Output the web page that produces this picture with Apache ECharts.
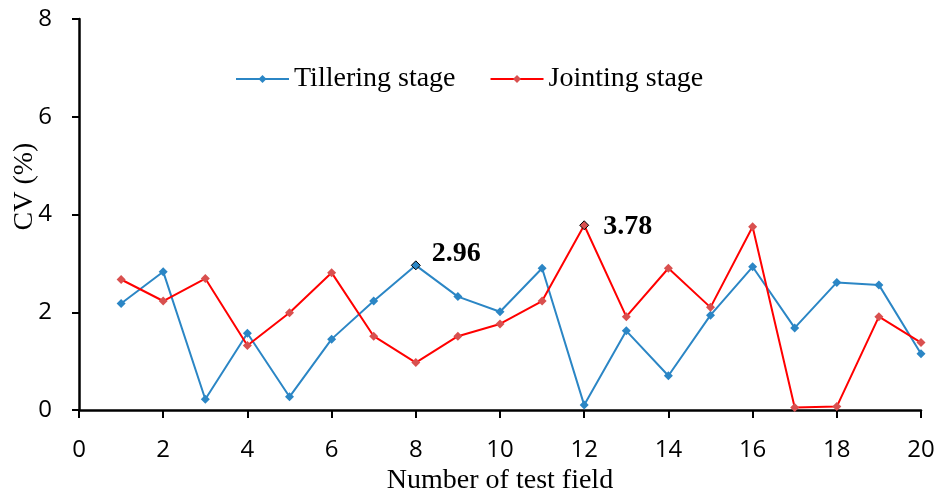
<!DOCTYPE html>
<html><head><meta charset="utf-8">
<script src="https://cdn.jsdelivr.net/npm/echarts@6/dist/echarts.min.js"></script>
<style>html,body{margin:0;padding:0;background:#fff}#c{width:940px;height:497px}</style>
</head><body><div id="c"></div>
<script>
const fields = [1,2,3,4,5,6,7,8,9,10,11,12,13,14,15,16,17,18,19,20];
const tillering = [2.18,2.83,0.22,1.57,0.27,1.45,2.23,2.96,2.32,2.01,2.90,0.10,1.62,0.70,1.94,2.93,1.68,2.61,2.56,1.15];
const jointing = [2.67,2.23,2.69,1.32,1.99,2.81,1.51,0.97,1.51,1.76,2.23,3.78,1.91,2.90,2.10,3.75,0.05,0.07,1.91,1.38];
const xTicks = [0,2,4,6,8,10,12,14,16,18,20];
const yTicks = [0,2,4,6,8];
const labelled = {tillering: 8, jointing: 12};

const tickFont = '"Open Sans","DejaVu Sans Condensed",sans-serif';
const serif = '"Liberation Serif","Times New Roman",serif';

function build(vals, idx, off) {
  return vals.map((v, i) => {
    const item = {value: [fields[i], v]};
    if (fields[i] === idx) {
      item.label = {show: true, formatter: v.toFixed(2), position: 'right', offset: off,
        fontFamily: serif, fontWeight: 'bold', fontSize: 28, color: '#000'};
      item.itemStyle = {borderColor: '#000', borderWidth: 1};
    }
    return item;
  });
}

const chart = echarts.init(document.getElementById('c'), null, {renderer: 'canvas'});
chart.setOption({
  animation: false,
  grid: {left: 79, right: 19, top: 19, bottom: 87, containLabel: false, outerBoundsMode: 'none'},
  legend: {
    top: 60, left: 230, itemWidth: 53, itemHeight: 10, itemGap: 34,
    textStyle: {fontFamily: serif, fontSize: 28, color: '#000', padding: [0,0,0,0]},
    data: ['Tillering stage', 'Jointing stage']
  },
  xAxis: {
    type: 'value', min: 0, max: 20, interval: 2,
    name: 'Number of test field', nameLocation: 'middle', nameGap: 57, nameMoveOverlap: false,
    nameTextStyle: {fontFamily: serif, fontSize: 28, color: '#000'},
    axisLine: {lineStyle: {color: '#000', width: 2.5}},
    axisTick: {show: true, length: 8, lineStyle: {color: '#000', width: 2}},
    axisLabel: {fontFamily: tickFont, fontSize: 24, color: '#000', margin: 28,
      formatter: v => xTicks.includes(v) ? String(v) : ''},
    splitLine: {show: false}
  },
  yAxis: {
    type: 'value', min: 0, max: 8, interval: 2,
    name: 'CV (%)', nameLocation: 'middle', nameGap: 40, nameRotate: 90, nameMoveOverlap: false,
    nameTextStyle: {fontFamily: serif, fontSize: 28, color: '#000', padding: [0,0,0,56]},
    axisLine: {show: true, lineStyle: {color: '#000', width: 2.5}},
    axisTick: {show: true, length: 7, lineStyle: {color: '#000', width: 2}},
    axisLabel: {fontFamily: tickFont, fontSize: 24, color: '#000', margin: 27,
      formatter: v => yTicks.includes(v) ? String(v) : ''},
    splitLine: {show: false}
  },
  series: [
    {name: 'Tillering stage', type: 'line', data: build(tillering, labelled.tillering, [6, -12]),
     symbol: 'diamond', symbolSize: 9, showAllSymbol: true,
     lineStyle: {color: '#2B86C5', width: 2}, itemStyle: {color: '#2B86C5'}},
    {name: 'Jointing stage', type: 'line', data: build(jointing, labelled.jointing, [9, 2]),
     symbol: 'diamond', symbolSize: 9, showAllSymbol: true,
     lineStyle: {color: '#FF0000', width: 2}, itemStyle: {color: '#D9504F'}}
  ]
});
</script></body></html>
